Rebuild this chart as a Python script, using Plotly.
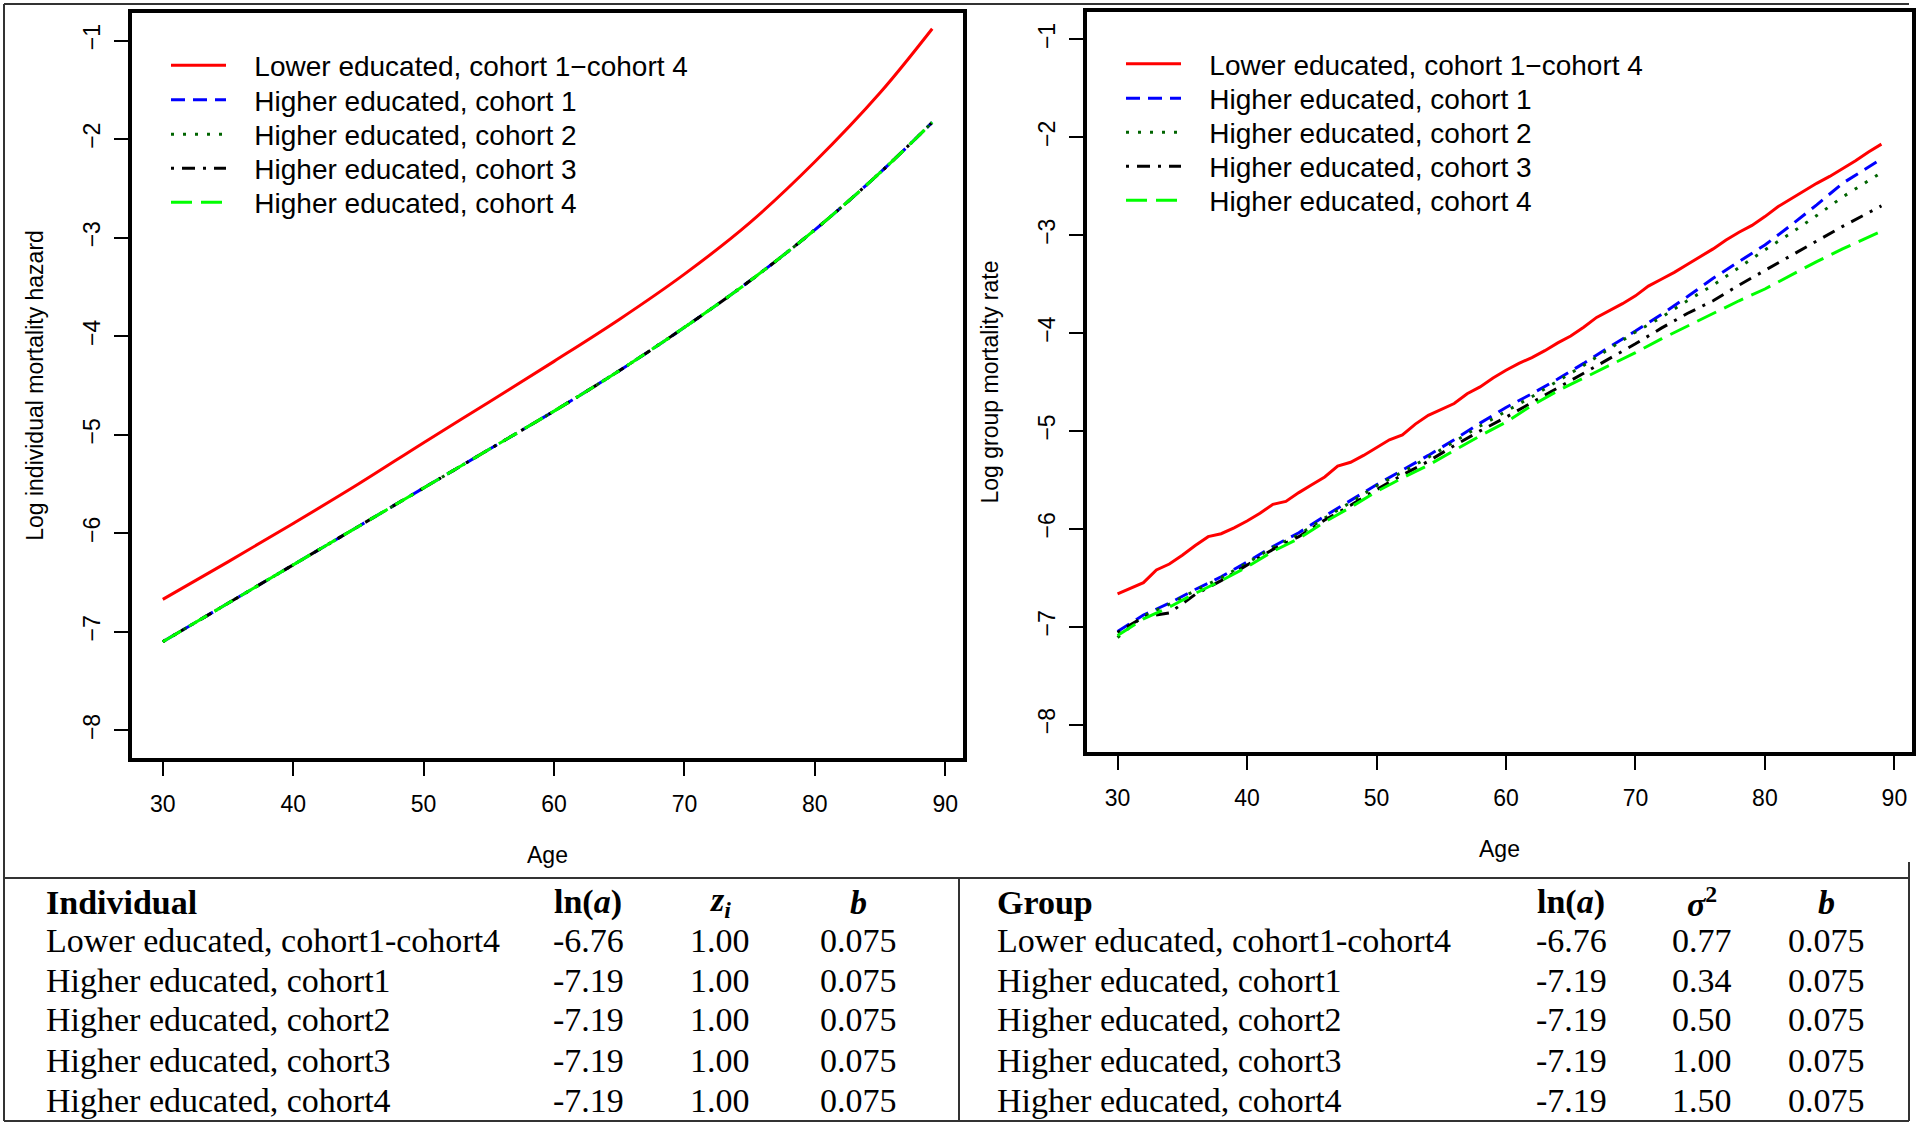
import plotly.graph_objects as go

W, H = 1920, 1127


def px(x):
    return x / W


def py(y):
    return 1 - y / H


# ---------------- data: left panel (individual hazard) ----------------
ages_ind = [30, 35, 40, 45, 50, 55, 60, 65, 70, 75, 80, 85, 89]
ind_lower = [-6.67, -6.29, -5.90, -5.50, -5.08, -4.67, -4.255, -3.83, -3.37, -2.85, -2.23, -1.53, -0.88]
ind_higher_c1 = [-7.10, -6.71, -6.32, -5.93, -5.54, -5.15, -4.76, -4.35, -3.91, -3.44, -2.92, -2.34, -1.83]
ind_higher_c2 = [-7.10, -6.71, -6.32, -5.93, -5.54, -5.15, -4.76, -4.35, -3.91, -3.44, -2.92, -2.34, -1.83]
ind_higher_c3 = [-7.10, -6.71, -6.32, -5.93, -5.54, -5.15, -4.76, -4.35, -3.91, -3.44, -2.92, -2.34, -1.83]
ind_higher_c4 = [-7.10, -6.71, -6.32, -5.93, -5.54, -5.15, -4.76, -4.35, -3.91, -3.44, -2.92, -2.34, -1.83]

# ---------------- data: right panel (group rate) ----------------
ages_grp_lower = [30, 31, 32, 33, 34, 35, 36, 37, 38, 39, 40, 41, 42, 43, 44, 45, 46, 47, 48, 49,
                  50, 51, 52, 53, 54, 55, 56, 57, 58, 59, 60, 61, 62, 63, 64, 65, 66, 67, 68, 69,
                  70, 71, 72, 73, 74, 75, 76, 77, 78, 79, 80, 81, 82, 83, 84, 85, 86, 87, 88, 89]
grp_lower = [-6.665, -6.61, -6.55, -6.42, -6.36, -6.27, -6.17, -6.08, -6.05, -5.99,
             -5.92, -5.84, -5.75, -5.72, -5.63, -5.55, -5.47, -5.36, -5.32, -5.25,
             -5.17, -5.09, -5.04, -4.93, -4.84, -4.78, -4.72, -4.62, -4.55, -4.46,
             -4.38, -4.31, -4.25, -4.18, -4.10, -4.03, -3.94, -3.84, -3.77, -3.70,
             -3.62, -3.52, -3.45, -3.38, -3.30, -3.22, -3.14, -3.05, -2.97, -2.90,
             -2.81, -2.71, -2.63, -2.55, -2.47, -2.40, -2.32, -2.24, -2.15, -2.07]

ages_grp_higher = [30, 32, 34, 36, 38, 40, 42, 44, 46, 48, 50, 52, 54, 56, 58, 60,
                   62, 64, 66, 68, 70, 72, 74, 76, 78, 80, 82, 84, 86, 88, 89]
grp_higher_c1 = [-7.05, -6.88, -6.76, -6.62, -6.49, -6.34, -6.18, -6.04, -5.87, -5.71, -5.55,
                 -5.40, -5.25, -5.09, -4.92, -4.76, -4.62, -4.47, -4.31, -4.14, -3.98, -3.81,
                 -3.63, -3.44, -3.27, -3.10, -2.90, -2.69, -2.47, -2.30, -2.22]
grp_higher_c2 = [-7.11, -6.89, -6.77, -6.63, -6.50, -6.35, -6.19, -6.06, -5.89, -5.73, -5.56,
                 -5.42, -5.27, -5.11, -4.95, -4.80, -4.65, -4.49, -4.33, -4.16, -3.99, -3.84,
                 -3.67, -3.51, -3.33, -3.15, -2.98, -2.80, -2.61, -2.44, -2.36]
grp_higher_c3 = [-7.06, -6.90, -6.86, -6.67, -6.53, -6.37, -6.21, -6.08, -5.91, -5.76, -5.60,
                 -5.45, -5.31, -5.15, -5.00, -4.86, -4.71, -4.56, -4.41, -4.26, -4.11, -3.95,
                 -3.80, -3.67, -3.51, -3.36, -3.21, -3.06, -2.91, -2.77, -2.70]
grp_higher_c4 = [-7.09, -6.92, -6.80, -6.66, -6.53, -6.39, -6.23, -6.10, -5.93, -5.78, -5.62,
                 -5.48, -5.35, -5.20, -5.05, -4.91, -4.74, -4.59, -4.46, -4.33, -4.20, -4.06,
                 -3.93, -3.80, -3.67, -3.55, -3.41, -3.27, -3.14, -3.02, -2.96]

series_names = ["Lower educated, cohort 1\u2212cohort 4", "Higher educated, cohort 1",
                "Higher educated, cohort 2", "Higher educated, cohort 3",
                "Higher educated, cohort 4"]
series_colors = ["#FF0000", "#0000FF", "#006400", "#000000", "#00FF00"]
series_dash = ["solid", "14px,8px", "3px,9px", "3px,8px,13px,8px", "21px,9px"]

# ---------------- table data ----------------
tbl_rows = ["Lower educated, cohort1-cohort4", "Higher educated, cohort1",
            "Higher educated, cohort2", "Higher educated, cohort3",
            "Higher educated, cohort4"]
tbl_ln_a = ["-6.76", "-7.19", "-7.19", "-7.19", "-7.19"]
tbl_z = ["1.00", "1.00", "1.00", "1.00", "1.00"]
tbl_sigma2 = ["0.77", "0.34", "0.50", "1.00", "1.50"]
tbl_b = ["0.075", "0.075", "0.075", "0.075", "0.075"]

SANS = "Liberation Sans, Arial, sans-serif"
SERIF = "Liberation Serif, Times New Roman, serif"
PAD = "\u00a0\u00a0\u00a0"

fig = go.Figure()

# legend rows (pixel centres of each legend entry)
left_leg_rows = [66, 100.5, 135, 169, 203]
right_leg_rows = [64.5, 99, 133, 167, 201]

left_sets = [(ages_ind, ind_lower), (ages_ind, ind_higher_c1), (ages_ind, ind_higher_c2),
             (ages_ind, ind_higher_c3), (ages_ind, ind_higher_c4)]
right_sets = [(ages_grp_lower, grp_lower), (ages_grp_higher, grp_higher_c1),
              (ages_grp_higher, grp_higher_c2), (ages_grp_higher, grp_higher_c3),
              (ages_grp_higher, grp_higher_c4)]

legend_ids = ["legend", "legend2", "legend3", "legend4", "legend5",
              "legend6", "legend7", "legend8", "legend9", "legend10"]

for i, (xs, ys) in enumerate(left_sets):
    fig.add_trace(go.Scatter(
        x=xs, y=ys, mode="lines", name=PAD + series_names[i], line_shape="spline",
        line=dict(color=series_colors[i], width=3, dash=series_dash[i]),
        xaxis="x", yaxis="y", legend=legend_ids[i]))

for i, (xs, ys) in enumerate(right_sets):
    fig.add_trace(go.Scatter(
        x=xs, y=ys, mode="lines", name=PAD + series_names[i],
        line=dict(color=series_colors[i], width=3, dash=series_dash[i]),
        xaxis="x2", yaxis="y2", legend=legend_ids[5 + i]))

axis_common = dict(
    showline=True, mirror=True, linewidth=4, linecolor="black",
    showgrid=False, zeroline=False, ticks="outside", ticklen=14, tickwidth=1.5,
    tickcolor="black", tickfont=dict(family=SANS, size=23, color="black"),
)
xaxis_common = dict(axis_common, range=[27.64, 91.36], tickvals=[30, 40, 50, 60, 70, 80, 90],
                    ticklabelstandoff=8)
yaxis_common = dict(axis_common, range=[-8.28, -0.72], tickvals=[-8, -7, -6, -5, -4, -3, -2, -1],
                    tickangle=-90, ticklabelstandoff=5)

legend_common = dict(xanchor="left", yanchor="top", bgcolor="rgba(0,0,0,0)", borderwidth=0,
                     font=dict(family=SANS, size=28, color="black"), itemwidth=55,
                     tracegroupgap=0)

title_font = dict(family=SANS, size=23, color="black")
layout = dict(
    width=W, height=H, margin=dict(l=0, r=0, t=0, b=0),
    paper_bgcolor="white", plot_bgcolor="white",
    xaxis=dict(xaxis_common, domain=[px(132), px(963)], anchor="y",
               title=dict(text="Age", font=title_font, standoff=32)),
    yaxis=dict(yaxis_common, domain=[py(758), py(13)], anchor="x",
               title=dict(text="Log individual mortality hazard", font=title_font, standoff=30)),
    xaxis2=dict(xaxis_common, domain=[px(1087), px(1912)], anchor="y2",
                title=dict(text="Age", font=title_font, standoff=32)),
    yaxis2=dict(yaxis_common, domain=[py(752), py(12)], anchor="x2",
                title=dict(text="Log group mortality rate", font=title_font, standoff=30)),
    showlegend=True,
)
for i in range(5):
    layout[legend_ids[i]] = dict(legend_common, x=px(166), y=py(left_leg_rows[i] - 25.5))
    layout[legend_ids[5 + i]] = dict(legend_common, x=px(1121), y=py(right_leg_rows[i] - 25.5))
fig.update_layout(**layout)

# ---------------- frame and table lines ----------------
line_style = dict(color="#333333", width=2)
frame_lines = [
    (4, 4, 1909, 4), (4, 4, 4, 1121), (4, 1121, 1909, 1121), (1909, 862, 1909, 1121),
    (4, 878, 1909, 878), (959, 878, 959, 1121),
]
for x0, y0, x1, y1 in frame_lines:
    fig.add_shape(type="line", xref="paper", yref="paper",
                  x0=px(x0), y0=py(y0), x1=px(x1), y1=py(y1), line=line_style)

# ---------------- table text ----------------
row_y = [940, 980, 1020, 1060, 1100]
head_y = 902
tfont = dict(family=SERIF, size=34, color="black")


def txt(x, y, s, anchor="center"):
    fig.add_annotation(xref="paper", yref="paper", x=px(x), y=py(y), text=s, showarrow=False,
                       xanchor=anchor, yanchor="middle", font=tfont)


# left table
txt(44, head_y, "<b>Individual</b>", "left")
txt(588, head_y, "<b>ln(<i>a</i>)</b>")
txt(720, head_y, "<b><i>z</i><sub><i>i</i></sub></b>")
txt(858, head_y, "<b><i>b</i></b>")
for k in range(5):
    txt(44, row_y[k], tbl_rows[k], "left")
    txt(588, row_y[k], tbl_ln_a[k])
    txt(720, row_y[k], tbl_z[k])
    txt(858, row_y[k], tbl_b[k])

# right table
txt(995, head_y, "<b>Group</b>", "left")
txt(1571, head_y, "<b>ln(<i>a</i>)</b>")
txt(1702, head_y, "<b><i>\u03c3</i><sup>2</sup></b>")
txt(1826, head_y, "<b><i>b</i></b>")
for k in range(5):
    txt(995, row_y[k], tbl_rows[k], "left")
    txt(1571, row_y[k], tbl_ln_a[k])
    txt(1702, row_y[k], tbl_sigma2[k])
    txt(1826, row_y[k], tbl_b[k])

fig.write_html("out.html", config={"displayModeBar": False},
               post_script="document.body.style.margin='0';")
